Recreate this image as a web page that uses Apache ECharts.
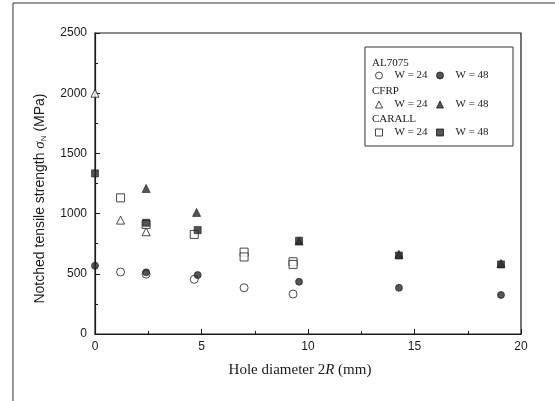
<!DOCTYPE html>
<html><head><meta charset="utf-8">
<script src="https://cdn.jsdelivr.net/npm/echarts@6/dist/echarts.min.js"></script>
<style>html,body{margin:0;padding:0;background:#fff}#c{width:555px;height:401px}</style>
</head><body><div id="c"></div>
<script>
// Hole diameter 2R (mm) and notched tensile strength (MPa)
const al24X = [1.2, 2.4, 4.66, 7.0, 9.3];
const al24Y = [515, 497, 454, 384, 332];
const al48X = [0, 2.4, 4.82, 9.58, 14.27, 19.06];
const al48Y = [567, 512, 490, 434, 384, 324];
const cf24X = [0, 1.2, 2.4];
const cf24Y = [2000, 946, 849];
const cf48X = [2.4, 4.77, 9.58, 14.27, 19.06];
const cf48Y = [1209, 1010, 772, 662, 585];
const ca24X = [1.2, 2.4, 4.66, 7.0, 7.0, 9.3, 9.3];
const ca24Y = [1131, 910, 827, 680, 640, 600, 578];
const ca48X = [0, 2.4, 4.82, 9.58, 14.27, 19.06];
const ca48Y = [1334, 924, 863, 775, 652, 578];
const xTicks = [0, 5, 10, 15, 20];
const yTicks = [0, 500, 1000, 1500, 2000, 2500];

const pairs = (xs, ys) => xs.map((x, i) => [x, ys[i]]);
const ink = '#1a1a1a';
const hollow = {color: '#fff', borderColor: ink, borderWidth: 1};
const filled = {color: '#2a2a2a', borderColor: ink, borderWidth: 0.8};
const serif = '"Liberation Serif","DejaVu Serif",serif';
const sans = '"Liberation Sans",Arial,sans-serif';

const seriesDefs = [
  {name: 'AL7075 W = 24', x: al24X, y: al24Y, symbol: 'circle', size: 8, st: hollow},
  {name: 'AL7075 W = 48', x: al48X, y: al48Y, symbol: 'circle', size: 7, st: filled},
  {name: 'CFRP W = 24', x: cf24X, y: cf24Y, symbol: 'triangle', size: 8, st: hollow},
  {name: 'CFRP W = 48', x: cf48X, y: cf48Y, symbol: 'triangle', size: 8, st: filled},
  {name: 'CARALL W = 24', x: ca24X, y: ca24Y, symbol: 'rect', size: 8, st: hollow},
  {name: 'CARALL W = 48', x: ca48X, y: ca48Y, symbol: 'rect', size: 7, st: filled}
];

const legendPos = [
  [375, 70], [436, 70],
  [375, 99], [436, 99],
  [375, 127], [436, 127]
];

const legends = seriesDefs.map((s, i) => ({
  data: [s.name],
  left: legendPos[i][0], top: legendPos[i][1],
  itemWidth: 7, itemHeight: 7, padding: 0,
  selectedMode: false,
  itemStyle: {borderWidth: 1},
  formatter: n => n.replace(/^\S+\s/, ''),
  textStyle: {fontFamily: serif, fontSize: 11, color: ink, padding: [0, 0, 0, 7]}
}));

const chart = echarts.init(document.getElementById('c'), null, {renderer: 'canvas'});
chart.setOption({
  animation: false,
  backgroundColor: '#fff',
  grid: {left: 95, top: 33, right: 34, bottom: 67, show: true, borderColor: ink, borderWidth: 1.2},
  legend: legends,
  graphic: [
    {type: 'polyline', shape: {points: [[13, 401], [13, 3], [555, 3]]}, style: {stroke: '#333', lineWidth: 1, fill: null}, silent: true},
    {type: 'rect', shape: {x: 365, y: 47, width: 148, height: 99}, style: {stroke: '#333', lineWidth: 1, fill: '#fff'}, z: 1},
    {type: 'text', left: 372, top: 58, z: 5, style: {text: 'AL7075', font: '11px ' + serif, fill: ink}},
    {type: 'text', left: 372, top: 86, z: 5, style: {text: 'CFRP', font: '11px ' + serif, fill: ink}},
    {type: 'text', left: 372, top: 114, z: 5, style: {text: 'CARALL', font: '11px ' + serif, fill: ink}}
  ],
  xAxis: {
    type: 'value', min: xTicks[0], max: xTicks[xTicks.length - 1], interval: 5,
    name: 'Hole diameter 2{i|R} (mm)', nameLocation: 'middle', nameGap: 29,
    nameTextStyle: {fontFamily: serif, fontSize: 15, color: ink, padding: [0, 16, 0, 0],
      rich: {i: {fontFamily: serif, fontStyle: 'italic', fontSize: 15, color: ink}}},
    axisLine: {lineStyle: {color: ink, width: 1.2}},
    axisTick: {inside: true, length: 5, lineStyle: {color: ink}},
    minorTick: {show: true, splitNumber: 2, length: 3, lineStyle: {color: ink}},
    splitLine: {show: false},
    axisLabel: {fontFamily: sans, fontSize: 12, color: ink, margin: 7}
  },
  yAxis: {
    type: 'value', min: yTicks[0], max: yTicks[yTicks.length - 1], interval: 500,
    name: 'Notched tensile strength {g|σ}{s|N} (MPa)', nameLocation: 'middle', nameGap: 47, nameRotate: 90,
    nameTextStyle: {fontFamily: sans, fontSize: 14, color: ink, padding: [0, 30, 0, 0],
      rich: {g: {fontFamily: serif, fontStyle: 'italic', fontSize: 15, color: ink},
             s: {fontFamily: sans, fontSize: 8, color: ink, verticalAlign: 'bottom', padding: [8, 0, 0, 0]}}},
    axisLine: {lineStyle: {color: ink, width: 1.2}},
    axisTick: {inside: true, length: 5, lineStyle: {color: ink}},
    minorTick: {show: true, splitNumber: 2, length: 3, lineStyle: {color: ink}},
    splitLine: {show: false},
    axisLabel: {fontFamily: sans, fontSize: 12, color: ink, margin: 8, formatter: v => String(v)}
  },
  series: seriesDefs.map(s => ({
    type: 'scatter', name: s.name, data: pairs(s.x, s.y),
    symbol: s.symbol, symbolSize: s.size, itemStyle: s.st, z: 3
  }))
});
</script></body></html>
